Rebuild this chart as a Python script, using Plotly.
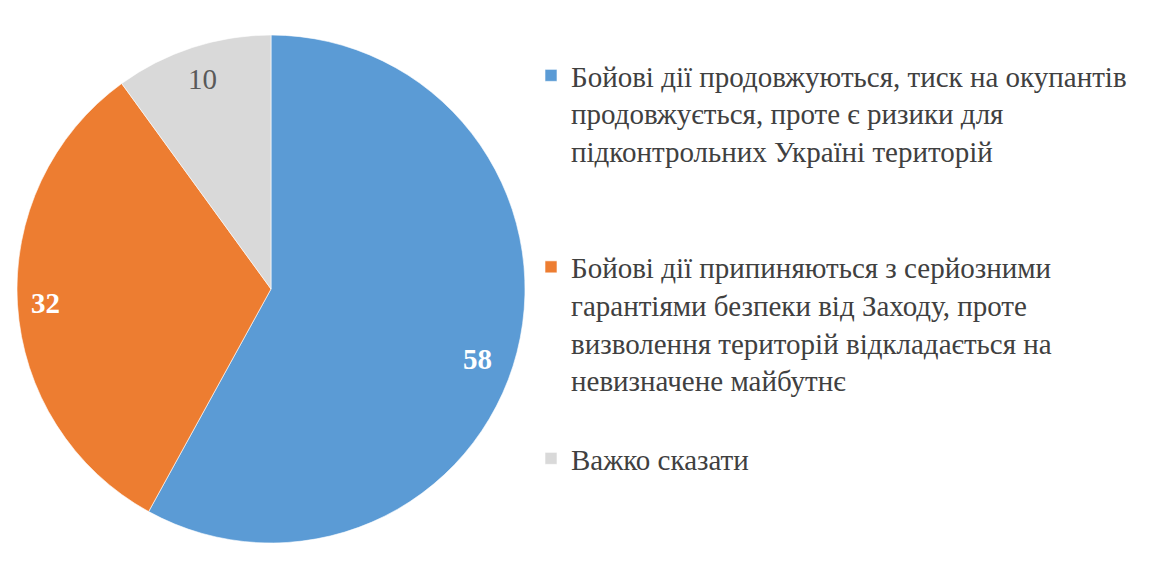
import math
import plotly.graph_objects as go

# відповіді, %
labels = [
    "Бойові дії продовжуються, тиск на окупантів<br>продовжується, проте є ризики для<br>підконтрольних Україні територій<br> <br> ",
    "Бойові дії припиняються з серйозними<br>гарантіями безпеки від Заходу, проте<br>визволення територій відкладається на<br>невизначене майбутнє<br> ",
    "Важко сказати",
]
values = [58, 32, 10]
colors = ["#5B9BD5", "#ED7D31", "#D9D9D9"]
text_colors = ["white", "white", "#595959"]
text_weights = ["bold", "bold", "normal"]

W, H = 1153, 562
SERIF = "Liberation Serif, Times New Roman, serif"

# pie box in pixels (page has 8px body margin)
px0, px1 = 9, 517
py0, py1 = 27, 535

fig = go.Figure(go.Pie(
    labels=labels,
    values=values,
    sort=False,
    direction="clockwise",
    rotation=0,
    marker=dict(colors=colors, line=dict(color="white", width=0.6)),
    textinfo="none",
    domain=dict(x=[px0 / W, px1 / W], y=[py0 / H, py1 / H]),
    hoverinfo="label+value",
))

# value labels near the rim, "best fit" style
cx, cy = (px0 + px1) / 2, (py0 + py1) / 2
R = (px1 - px0) / 2
label_r = [0.86, 0.89, 0.87]
label_nudge = [4.3, 0, 0]  # degrees
total = sum(values)
cum = 0
for v, tc, tw, lr, dn in zip(values, text_colors, text_weights, label_r, label_nudge):
    mid = (cum + v / 2) / total * 2 * math.pi + math.radians(dn)
    cum += v
    x = cx + lr * R * math.sin(mid)
    y = cy + lr * R * math.cos(mid)
    fig.add_annotation(
        x=x / W, y=y / H, xref="paper", yref="paper",
        xanchor="center", yanchor="middle",
        text=str(v), showarrow=False,
        font=dict(family=SERIF, size=29, color=tc, weight=tw),
    )

fig.update_layout(
    width=W, height=H,
    margin=dict(l=0, r=0, t=0, b=0),
    paper_bgcolor="white",
    showlegend=True,
    legend=dict(
        x=523 / W, y=1 - 42 / H, xanchor="left", yanchor="top",
        valign="top",
        font=dict(family=SERIF, size=29, color="#404040"),
        bgcolor="rgba(0,0,0,0)",
    ),
)

fig.write_html("out.html")
